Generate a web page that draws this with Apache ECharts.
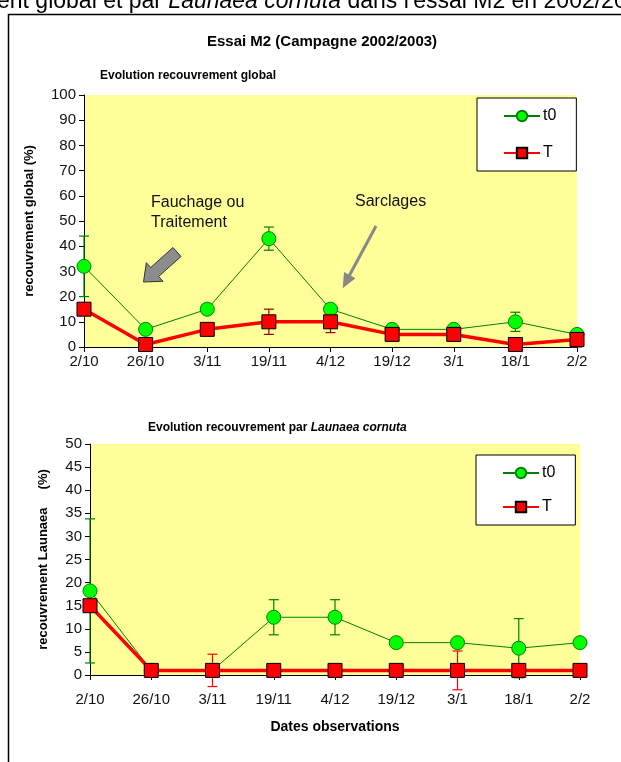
<!DOCTYPE html>
<html><head><meta charset="utf-8">
<script src="https://cdn.jsdelivr.net/npm/echarts/dist/echarts.min.js"></script>
<style>html,body{margin:0;padding:0;background:#fff}#c{width:621px;height:762px}</style>
</head><body><div id="c"></div><script>
// ---- data ----
const categories = ['2/10','26/10','3/11','19/11','4/12','19/12','3/1','18/1','2/2'];
const globalT0 = [32, 7, 15, 43, 15, 7, 7, 10, 5];
const globalT = [15, 1, 7, 10, 10, 5, 5, 1, 3];
const globalT0Err = [12, 1, 1, 4.6, 1, 1, 1, 3.8, 1];
const globalTErr = [1, 0.5, 1, 5, 4.3, 1, 1, 0.5, 3];
const launT0 = [18.2, 1, 1, 12.5, 12.5, 7, 7, 5.8, 7];
const launT = [15, 1, 1, 1, 1, 1, 1, 1, 1];
const launT0Err = [15.6, 0, 0, 3.8, 3.8, 0, 0, 6.4, 0];
const launTErr = [0, 0, 3.5, 0, 0, 0, 4.2, 0, 0];
const globalTicks = [0, 100, 10];
const launTicks = [0, 50, 5];

const FONT = 'Liberation Sans, Arial, sans-serif';
const chart = echarts.init(document.getElementById('c'), null, {renderer: 'canvas'});

function errData(vals, errs) {
  const out = [];
  vals.forEach((v, i) => { if (errs[i] > 0) out.push([i, v - errs[i], v + errs[i]]); });
  return out;
}
function errRender(color) {
  return function (params, api) {
    const i = api.value(0);
    const pTop = api.coord([i, api.value(2)]);
    const pBot = api.coord([i, api.value(1)]);
    const hw = 5;
    const st = {stroke: color, lineWidth: 1.2};
    return {type: 'group', children: [
      {type: 'line', shape: {x1: pTop[0], y1: pTop[1], x2: pBot[0], y2: pBot[1]}, style: st},
      {type: 'line', shape: {x1: pTop[0] - hw, y1: pTop[1], x2: pTop[0] + hw, y2: pTop[1]}, style: st},
      {type: 'line', shape: {x1: pBot[0] - hw, y1: pBot[1], x2: pBot[0] + hw, y2: pBot[1]}, style: st}
    ]};
  };
}
function fatArrow(tail, tip, sw, hw, hl) {
  const dx = tip[0] - tail[0], dy = tip[1] - tail[1];
  const L = Math.hypot(dx, dy), ux = dx / L, uy = dy / L, nx = -uy, ny = ux;
  const bx = tip[0] - ux * hl, by = tip[1] - uy * hl;
  return [
    [tail[0] + nx * sw / 2, tail[1] + ny * sw / 2],
    [bx + nx * sw / 2, by + ny * sw / 2],
    [bx + nx * hw / 2, by + ny * hw / 2],
    tip,
    [bx - nx * hw / 2, by - ny * hw / 2],
    [bx - nx * sw / 2, by - ny * sw / 2],
    [tail[0] - nx * sw / 2, tail[1] - ny * sw / 2]
  ];
}
function headTri(tail, tip, hw, hl) {
  const dx = tip[0] - tail[0], dy = tip[1] - tail[1];
  const L = Math.hypot(dx, dy), ux = dx / L, uy = dy / L, nx = -uy, ny = ux;
  const bx = tip[0] - ux * hl, by = tip[1] - uy * hl;
  return [[bx + nx * hw / 2, by + ny * hw / 2], tip, [bx - nx * hw / 2, by - ny * hw / 2]];
}

function yAx(ticks, gridIndex, name, gap) {
  return {
    type: 'value', gridIndex, min: ticks[0], max: ticks[1], interval: ticks[2],
    name, nameLocation: 'middle', nameGap: gap, nameRotate: 90,
    nameTextStyle: {fontFamily: FONT, fontWeight: 'bold', fontSize: 13, color: '#000'},
    axisLine: {show: true, lineStyle: {color: '#000', width: 1}},
    axisTick: {show: true, length: 5, lineStyle: {color: '#000'}},
    axisLabel: {fontFamily: FONT, fontSize: 15, color: '#111', margin: 8},
    splitLine: {show: false}
  };
}
function xAx(gridIndex, margin, name) {
  const o = {
    type: 'category', gridIndex, data: categories, boundaryGap: false,
    axisLine: {show: true, onZero: false, lineStyle: {color: '#000', width: 1}},
    axisTick: {show: true, length: 5, alignWithLabel: true, lineStyle: {color: '#000'}},
    axisLabel: {fontFamily: FONT, fontSize: 15, color: '#111', margin, interval: 0},
    splitLine: {show: false}
  };
  if (name) {
    o.name = name; o.nameLocation = 'middle'; o.nameGap = 45;
    o.nameTextStyle = {fontFamily: FONT, fontWeight: 'bold', fontSize: 14, color: '#000'};
  }
  return o;
}
function lineT0(xi, data) {
  return {type: 'line', name: 't0', xAxisIndex: xi, yAxisIndex: xi, data, symbol: 'circle', symbolSize: 14,
    lineStyle: {color: '#008000', width: 1}, itemStyle: {color: '#00FF00', borderColor: '#008000', borderWidth: 1}, z: 3};
}
function lineT(xi, data) {
  return {type: 'line', name: 'T', xAxisIndex: xi, yAxisIndex: xi, data, symbol: 'rect', symbolSize: 14,
    lineStyle: {color: '#FF0000', width: 3.5}, itemStyle: {color: '#FF0000', borderColor: '#000', borderWidth: 1}, z: 4};
}
function errSeries(xi, vals, errs, color) {
  return {type: 'custom', xAxisIndex: xi, yAxisIndex: xi, renderItem: errRender(color), data: errData(vals, errs), z: 1, silent: true, clip: false};
}
function legendBox(left, top, gap) {
  return {
    left, top, orient: 'vertical', data: ['t0', 'T'], itemWidth: 36, itemHeight: 13, itemGap: gap,
    padding: [10, 20, 10, 26], backgroundColor: '#fff', borderColor: '#000', borderWidth: 1, borderRadius: 0,
    textStyle: {fontFamily: FONT, fontSize: 16, color: '#000', padding: [0, 0, 0, -2]}, selectedMode: false
  };
}

const option = {
  animation: false,
  backgroundColor: '#fff',
  grid: [
    {left: 84, top: 95, width: 493, height: 252, show: true, backgroundColor: '#FFFF99', borderWidth: 0},
    {left: 90, top: 444, width: 490, height: 231, show: true, backgroundColor: '#FFFF99', borderWidth: 0}
  ],
  xAxis: [xAx(0, 7), xAx(1, 17, 'Dates observations')],
  yAxis: [yAx(globalTicks, 0, 'recouvrement global (%)', 48), yAx(launTicks, 1, 'recouvrement Launaea     (%)', 40)],
  legend: [legendBox(477, 98, 21), legendBox(476, 455, 18)],
  series: [
    errSeries(0, globalT0, globalT0Err, '#008000'),
    errSeries(0, globalT, globalTErr, '#990000'),
    lineT0(0, globalT0),
    lineT(0, globalT),
    errSeries(1, launT0, launT0Err, '#008000'),
    errSeries(1, launT, launTErr, '#FF0000'),
    lineT0(1, launT0),
    lineT(1, launT)
  ],
  graphic: [
    {type: 'text', left: -3, top: -10, style: {
      text: 'ent global et par {i|Launaea cornuta} dans l\'essai M2 en 2002/2003',
      font: '23px ' + FONT, fill: '#000',
      rich: {i: {fontStyle: 'italic', fontSize: 23, fontFamily: FONT}}
    }, z: 10},
    {type: 'rect', shape: {x: 8.5, y: 14.5, width: 700, height: 800}, style: {fill: 'none', stroke: '#000', lineWidth: 1.5}, z: 10, silent: true},
    {type: 'text', x: 322, y: 42, style: {text: 'Essai M2 (Campagne 2002/2003)', font: 'bold 15px ' + FONT, fill: '#000', align: 'center', verticalAlign: 'middle'}},
    {type: 'text', x: 100, y: 76, style: {text: 'Evolution recouvrement global', font: 'bold 12px ' + FONT, fill: '#000', align: 'left', verticalAlign: 'middle'}},
    {type: 'text', x: 148, y: 428, style: {
      text: 'Evolution recouvrement par {i|Launaea cornuta}', font: 'bold 12px ' + FONT, fill: '#000', align: 'left', verticalAlign: 'middle',
      rich: {i: {fontStyle: 'italic', fontWeight: 'bold', fontSize: 12, fontFamily: FONT}}
    }},
    {type: 'text', left: 151, top: 193, style: {text: 'Fauchage ou\nTraitement', font: '16px ' + FONT, fill: '#111', lineHeight: 20}},
    {type: 'text', left: 355, top: 194, style: {text: 'Sarclages', font: '16px ' + FONT, fill: '#111'}},
    {type: 'polygon', shape: {points: fatArrow([177, 252], [143.5, 282], 12, 25, 15)}, style: {fill: '#8c8c8c', stroke: '#333', lineWidth: 1}, z: 5},
    {type: 'line', shape: {x1: 376, y1: 226, x2: 348, y2: 278}, style: {stroke: '#888', lineWidth: 3}, z: 5},
    {type: 'polygon', shape: {points: headTri([376, 226], [342.7, 288.3], 13, 15)}, style: {fill: '#888'}, z: 5}
  ]
};
chart.setOption(option);
</script></body></html>
